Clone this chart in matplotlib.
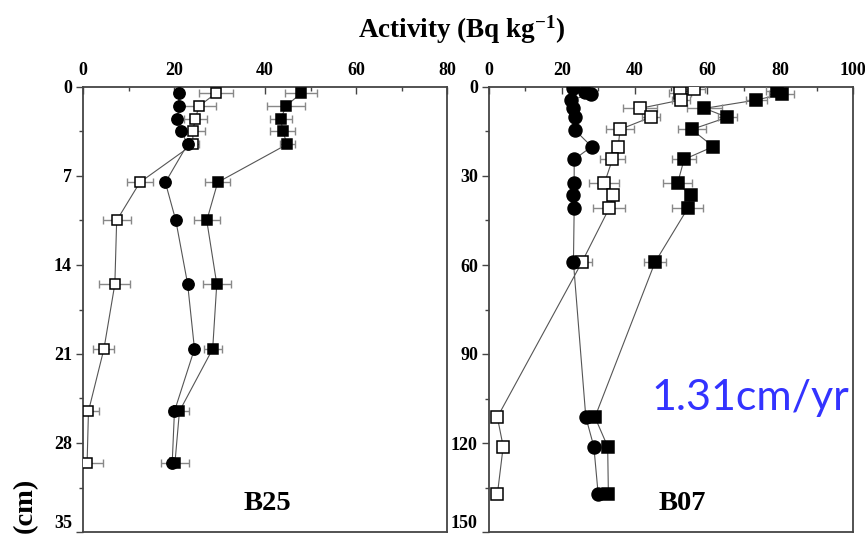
import matplotlib
matplotlib.use("Agg")
import matplotlib.pyplot as plt

plt.rcParams["mathtext.fontset"] = "custom"
plt.rcParams["mathtext.rm"] = "Liberation Serif:bold"
plt.rcParams["mathtext.bf"] = "Liberation Serif:bold"
plt.rcParams["mathtext.it"] = "Liberation Serif:bold"

# ---------------- B25 data ----------------
b25_depth = [0.5, 1.5, 2.5, 3.5, 4.5, 7.5, 10.5, 15.5, 20.6, 25.5, 29.6]
b25_circle = [21.0, 21.1, 20.7, 21.6, 23.0, 18.1, 20.4, 23.0, 24.5, 20.1, 19.6]
b25_open = [29.2, 25.5, 24.7, 24.1, 24.2, 12.5, 7.4, 7.0, 4.6, 1.2, 0.9]
b25_open_err = [3.7, 3.7, 2.6, 2.8, 1.2, 2.9, 3.1, 3.4, 2.3, 2.4, 3.4]
b25_filled = [47.9, 44.6, 43.5, 43.9, 44.9, 29.6, 27.2, 29.4, 28.5, 21.2, 20.2]
b25_filled_err = [3.6, 4.2, 2.4, 2.7, 1.7, 2.7, 2.9, 3.1, 2.0, 2.2, 3.0]

# ---------------- B07 data ----------------
b07_circle_depth = [0.3, 1.6, 2.4, 4.4, 7.2, 10.2, 14.5, 20.1, 24.4, 32.5, 36.4, 40.9, 59.1, 111.3, 121.2, 137.3]
b07_circle = [23.2, 26.4, 27.9, 22.5, 23.0, 23.6, 23.6, 28.2, 23.4, 23.4, 23.2, 23.4, 23.2, 26.6, 28.8, 30.0]
b07_open_depth = [0.8, 2.1, 4.4, 7.2, 10.2, 14.3, 20.1, 24.4, 32.5, 36.4, 40.9, 59.1, 111.3, 121.2, 137.3]
b07_open = [56.3, 52.5, 52.7, 41.5, 44.4, 36.0, 35.5, 33.9, 31.7, 34.2, 33.0, 25.5, 2.3, 3.9, 2.3]
b07_open_err = [3.0, 3.0, 2.5, 4.7, 2.5, 3.8, 1.0, 3.4, 4.1, 1.0, 4.4, 2.7, 0.3, 0.3, 0.3]
b07_filled_depth = [1.2, 2.4, 4.4, 7.2, 10.2, 14.3, 20.1, 24.4, 32.5, 36.4, 40.9, 59.1, 111.3, 121.2, 137.3]
b07_filled = [79.0, 80.4, 73.4, 59.2, 65.5, 55.7, 61.6, 53.6, 51.8, 55.4, 54.6, 45.6, 29.1, 32.6, 32.8]
b07_filled_err = [3.0, 3.4, 2.9, 4.8, 2.5, 3.8, 1.0, 3.4, 4.1, 1.0, 4.3, 3.0, 0.5, 0.5, 0.5]

b25_xticks = [0, 20, 40, 60, 80]
b25_yticks = [0, 7, 14, 21, 28, 35]
b07_xticks = [0, 20, 40, 60, 80, 100]
b07_yticks = [0, 30, 60, 90, 120, 150]

SERIF = ["Liberation Serif", "DejaVu Serif"]
W, H = 865, 538
fig = plt.figure(figsize=(W / 100, H / 100), dpi=100)
fig.patch.set_facecolor("white")

def ax_rect(x0, x1, y0, y1):
    return [x0 / W, 1 - y1 / H, (x1 - x0) / W, (y1 - y0) / H]

ax1 = fig.add_axes(ax_rect(83, 447, 87, 532))
ax2 = fig.add_axes(ax_rect(489, 853, 87, 532))

LINE = "#555555"
ERR = "#888888"

def draw(ax, d_c, c, d_o, o, oe, d_f, f, fe, ms):
    ax.plot(c, d_c, "-", color=LINE, lw=0.8, zorder=2)
    ax.plot(o, d_o, "-", color=LINE, lw=0.8, zorder=2)
    ax.plot(f, d_f, "-", color=LINE, lw=0.8, zorder=2)
    ax.errorbar(o, d_o, xerr=oe, fmt="none", ecolor=ERR, elinewidth=1.0, capsize=3, capthick=1.0, zorder=3)
    ax.errorbar(f, d_f, xerr=fe, fmt="none", ecolor=ERR, elinewidth=1.0, capsize=3, capthick=1.0, zorder=3)
    ax.plot(o, d_o, "s", ms=ms, mfc="white", mec="black", mew=1.1, ls="none", zorder=4)
    ax.plot(f, d_f, "s", ms=ms, mfc="black", mec="black", mew=1.1, ls="none", zorder=4)
    ax.plot(c, d_c, "o", ms=ms + 0.8, mfc="black", mec="black", ls="none", zorder=5)

draw(ax1, b25_depth, b25_circle, b25_depth, b25_open, b25_open_err,
     b25_depth, b25_filled, b25_filled_err, 7.4)
draw(ax2, b07_circle_depth, b07_circle, b07_open_depth, b07_open, b07_open_err,
     b07_filled_depth, b07_filled, b07_filled_err, 8.6)

for ax, xt, yt in [(ax1, b25_xticks, b25_yticks), (ax2, b07_xticks, b07_yticks)]:
    ax.set_xlim(xt[0], xt[-1])
    ax.set_ylim(yt[-1], yt[0])
    ax.xaxis.tick_top()
    ax.set_xticks(xt)
    ax.set_yticks(yt)
    ax.set_xticks([(xt[i] + xt[i + 1]) / 2 for i in range(len(xt) - 1)], minor=True)
    ax.set_yticks([(yt[i] + yt[i + 1]) / 2 for i in range(len(yt) - 1)], minor=True)
    ax.tick_params(axis="x", which="both", direction="in", top=True, bottom=False,
                   length=5, width=1.0, colors="#444444", pad=6)
    ax.tick_params(axis="x", which="minor", length=3)
    ax.tick_params(axis="y", which="both", direction="out", left=True, right=False,
                   length=5, width=1.0, colors="#444444", pad=3)
    ax.tick_params(axis="y", which="minor", length=3)
    for lab in ax.get_xticklabels() + ax.get_yticklabels():
        lab.set_fontfamily(SERIF)
        lab.set_fontweight("bold")
        lab.set_fontsize(13)
        lab.set_color("black")
    ax.get_yticklabels()[-1].set_verticalalignment("bottom")
    for sp in ax.spines.values():
        sp.set_color("#444444")
        sp.set_linewidth(1.3)
    ax.set_facecolor("white")

fig.text(462 / W, 1 - 30 / H, "Activity (Bq kg$^{-1}$)", ha="center", va="center",
         family=SERIF, fontweight="bold", fontsize=19.5)
fig.text(25 / W, 1 - 505 / H, "(cm)", rotation=90, ha="center", va="center",
         family=SERIF, fontweight="bold", fontsize=20.5)
fig.text(267 / W, 1 - 503 / H, "B25", ha="center", va="center",
         family=SERIF, fontweight="bold", fontsize=20.5)
fig.text(682 / W, 1 - 504 / H, "B07", ha="center", va="center",
         family=SERIF, fontweight="bold", fontsize=20.5)
fig.text(750 / W, 1 - 398 / H, "1.31cm/yr", ha="center", va="center",
         family=["Lato", "DejaVu Sans"], fontsize=31, color="#3333ff")

fig.savefig("out.png", dpi=100, facecolor="white")
